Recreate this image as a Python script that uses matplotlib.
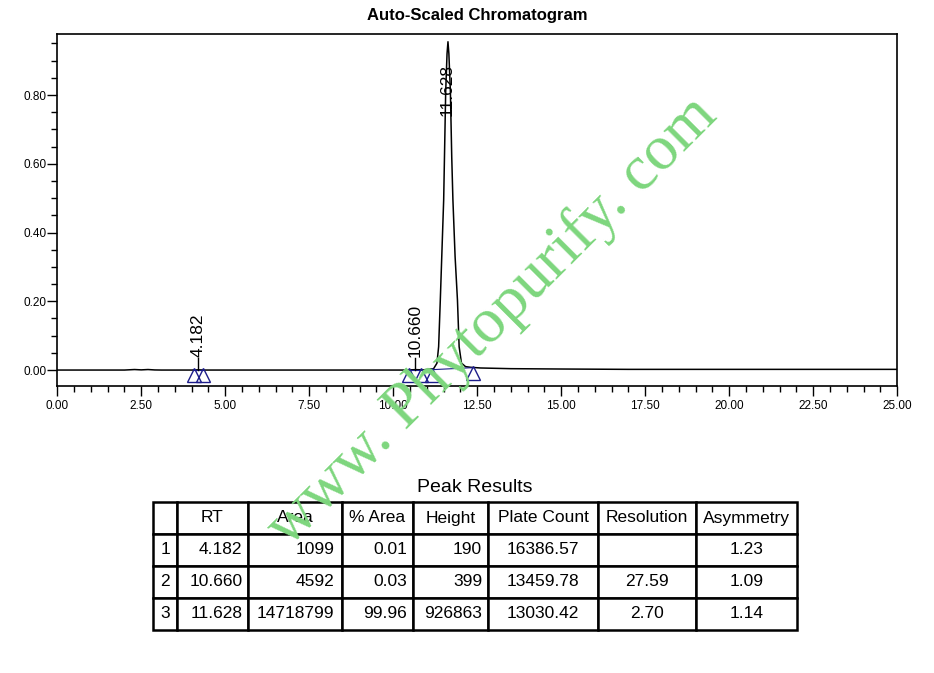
import matplotlib
matplotlib.use("Agg")
import matplotlib.pyplot as plt
from matplotlib.ticker import MultipleLocator, FormatStrFormatter

plt.rcParams['font.family'] = ['Liberation Sans', 'DejaVu Sans']

# chromatogram trace (minutes, AU)
time = [0.0, 2.0, 2.3, 2.5, 2.7, 2.9, 3.1, 4.0, 4.18, 4.4, 10.4, 10.66, 10.9,
        11.2, 11.30, 11.35, 11.40, 11.45, 11.50, 11.56, 11.60, 11.628, 11.655,
        11.70, 11.74, 11.775, 11.84, 11.91, 11.96, 12.03, 12.15, 12.3, 12.6,
        13.5, 15.0, 17.0, 25.0]
signal = [0.0, 0.0, 0.0015, 0.0005, 0.0015, 0.0003, 0.0, 0.0, 0.0006, 0.0,
          0.0, 0.0012, 0.0005, 0.004, 0.02, 0.068, 0.204, 0.35, 0.495, 0.81,
          0.92, 0.955, 0.92, 0.81, 0.62, 0.495, 0.33, 0.204, 0.068, 0.02,
          0.01, 0.008, 0.006, 0.004, 0.003, 0.002, 0.002]

# peak labels
peak_rt = [4.182, 10.660, 11.628]
peak_lbl = ["4.182", "10.660", "11.628"]

# integration marks
mark_t = [4.06, 4.33, 10.47, 10.84, 11.14, 12.38]
mark_base = [0.0, 0.0, 0.0, 0.0, 0.001, 0.007]

# peak table
col_labels = ["", "RT", "Area", "% Area", "Height", "Plate Count", "Resolution", "Asymmetry"]
rows = [
    ["1", "4.182", "1099", "0.01", "190", "16386.57", "", "1.23"],
    ["2", "10.660", "4592", "0.03", "399", "13459.78", "27.59", "1.09"],
    ["3", "11.628", "14718799", "99.96", "926863", "13030.42", "2.70", "1.14"],
]
col_w = [24, 71, 94, 71, 75, 110, 98, 101]

fig = plt.figure(figsize=(9.34, 6.73), dpi=100)
ax = fig.add_axes([0.0613, 0.4264, 0.8994, 0.5226])

ax.plot(time, signal, color='black', lw=1.1)

navy = '#1c1c8a'
ax.plot(mark_t[0:2], mark_base[0:2], color=navy, lw=0.8)
ax.plot(mark_t[2:4], mark_base[2:4], color=navy, lw=0.8)
ax.plot(mark_t[4:6], mark_base[4:6], color=navy, lw=0.8)
ax.plot(mark_t, [b - 0.015 for b in mark_base], ls='none', marker='^',
        ms=9.5, mfc='none', mec=navy, mew=1.0)

# labels of the small peaks with their little stems
for rt, lbl in zip(peak_rt[:2], peak_lbl[:2]):
    ax.plot([rt, rt], [0.0, 0.035], color='black', lw=1)
    ax.text(rt, 0.038, lbl, rotation=90, ha='center', va='bottom', fontsize=12.5)
# the main one is pushed inside the frame
ax.text(peak_rt[2] - 0.02, 0.89, peak_lbl[2], rotation=90, ha='center', va='top',
        fontsize=12.5)

ax.set_xlim(0, 25)
ax.set_ylim(-0.0465, 0.9766)
ax.xaxis.set_major_locator(MultipleLocator(2.5))
ax.xaxis.set_minor_locator(MultipleLocator(0.5))
ax.yaxis.set_major_locator(MultipleLocator(0.2))
ax.yaxis.set_minor_locator(MultipleLocator(0.05))
ax.xaxis.set_major_formatter(FormatStrFormatter('%.2f'))
ax.yaxis.set_major_formatter(FormatStrFormatter('%.2f'))
ax.tick_params(which='major', length=7, width=1, labelsize=8.5, direction='out')
ax.tick_params(which='minor', length=4, width=1, direction='out')
ax.tick_params(axis='x', pad=3)
ax.tick_params(axis='y', pad=1)
for sp in ax.spines.values():
    sp.set_linewidth(1.2)
ax.set_title("Auto-Scaled Chromatogram", fontsize=12, fontweight='bold', pad=10)

# table
fig.text(0.5085, 1 - 488 / 673, "Peak Results", ha='center', va='center', fontsize=14)
tax = fig.add_axes([153 / 934, 1 - 630 / 673, 644 / 934, 128 / 673])
tax.axis('off')
tot = sum(col_w)
tbl = tax.table(cellText=rows, colLabels=col_labels, colWidths=[w / tot for w in col_w],
                cellLoc='center', bbox=[0, 0, 1, 1])
tbl.auto_set_font_size(False)
tbl.set_fontsize(12.5)
for (r, c), cell in tbl.get_celld().items():
    cell.set_linewidth(1.8)
    cell.set_edgecolor('black')
    if r > 0 and c in (1, 2, 3, 4):
        cell._loc = 'right'
        cell.PAD = 0.08
        cell.get_text().set_ha('right')

# watermark
fig.text(0.527, 0.522, "www. Phytopurify. com", family='Liberation Serif', fontsize=46,
         color='#7dd67d', rotation=45, ha='center', va='center', zorder=10)

fig.savefig("out.png", dpi=100)
